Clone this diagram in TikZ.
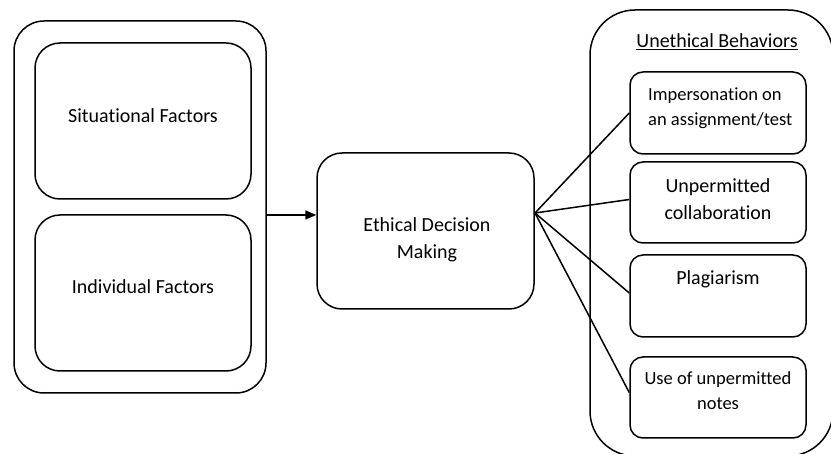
\documentclass[tikz,border=0pt]{standalone}
\usepackage{fontspec}
\setmainfont[Ligatures=NoCommon]{Carlito}
\usetikzlibrary{arrows.meta,calc}
\begin{document}
\begin{tikzpicture}[x=1pt,y=-1pt,
  box/.style={draw,line width=1.5pt,rounded corners=#1,inner sep=0pt},
  txt/.style={font=\fontsize{20}{27}\selectfont,align=center,inner sep=0pt},
  stxt/.style={font=\fontsize{18.5}{25}\selectfont,align=left,inner sep=0pt},
  conn/.style={line width=1.5pt}]
\useasboundingbox (0,0) rectangle (831,454);
% left group
\node[box=30pt,minimum width=252pt,minimum height=372pt] (outerL) at (140,207) {};
\node[box=25pt,minimum width=216pt,minimum height=156pt] (sit) at (143,121) {};
\node[box=25pt,minimum width=216pt,minimum height=156pt] (ind) at (143,293) {};
\node[txt] (sitT) at (143,116) {Situational Factors};
\node[txt] (indT) at (143,287) {Individual Factors};
% middle
\node[box=25pt,minimum width=217pt,minimum height=156pt] (mid) at (425.5,231) {};
\node[txt] (midT) at (427,240) {Ethical Decision\\Making};
% right group
\node[box=45pt,minimum width=243pt,minimum height=446pt] (outerR) at (711.5,233) {};
\node[txt] (ubT) at (717,42) {\underline{Unethical Behaviors}};
\node[box=13pt,minimum width=176pt,minimum height=82pt] (b1) at (718,113) {};
\node[box=13pt,minimum width=176pt,minimum height=81pt] (b2) at (718,202.5) {};
\node[box=13pt,minimum width=176pt,minimum height=82pt] (b3) at (718,296) {};
\node[box=13pt,minimum width=176pt,minimum height=81pt] (b4) at (718,397.5) {};
\node[stxt,anchor=west] (b1T) at (648,108) {Impersonation on\\an assignment/test};
\node[txt] (b2T) at (718,199) {Unpermitted\\collaboration};
\node[txt] (b3T) at (718,279) {Plagiarism};
\node[font=\fontsize{18.5}{25}\selectfont,align=center,inner sep=0pt] (b4T) at (718,391) {Use of unpermitted\\notes};
% connectors
\coordinate (a) at (0,215);
\draw[conn,-{Triangle[length=11pt,width=9pt]}] (outerL.east |- a) -- (mid.west |- a);
\coordinate (fan) at (535,213);
\draw[conn] (fan) -- (b1.west);
\draw[conn] (fan) -- ($(b2.west)+(0,-3)$);
\draw[conn] (fan) -- ($(b3.west)+(0,-3)$);
\draw[conn] (fan) -- ($(b4.west)+(0,-5)$);
\end{tikzpicture}
\end{document}
